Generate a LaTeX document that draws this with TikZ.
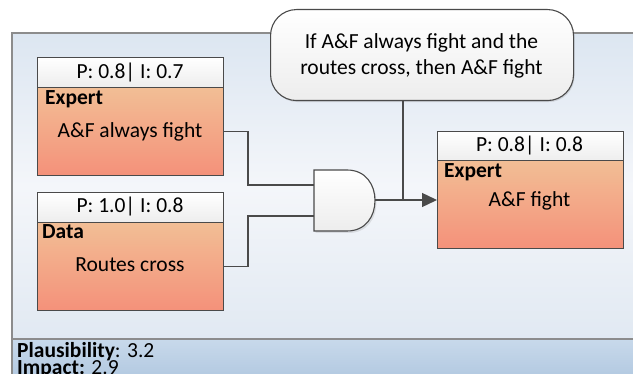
\documentclass[tikz,border=0pt]{standalone}
\usepackage{fontspec}
\setmainfont{Carlito}
\usetikzlibrary{arrows.meta,shadows}

\definecolor{edge}{HTML}{4A4A4A}
\definecolor{frame}{HTML}{8C8C8C}
\definecolor{paneltop}{HTML}{DCE6F1}
\definecolor{panelmid}{HTML}{F4F6FA}
\definecolor{panelbot}{HTML}{E1E9F2}
\definecolor{foottop}{HTML}{C8D9EB}
\definecolor{footbot}{HTML}{B1C8E0}
\definecolor{peachtop}{HTML}{F2BE95}
\definecolor{peachbot}{HTML}{F4917A}
\definecolor{headtop}{HTML}{FFFFFF}
\definecolor{headbot}{HTML}{EDEDED}

\newcommand{\diagfont}{\fontsize{21.5}{25}\selectfont}

\tikzset{
  txt/.style={font=\diagfont, inner sep=0pt, text=black},
  keytxt/.style={font=\diagfont\bfseries, inner sep=0pt, text=black, anchor=base west},
  headbox/.style={draw=edge, line width=1.1pt, top color=headtop, bottom color=headbot,
    minimum width=186pt, minimum height=30pt, anchor=north west, inner sep=0pt},
  bodybox/.style={draw=edge, line width=1.1pt, top color=peachtop, bottom color=peachbot,
    minimum width=186pt, minimum height=88pt, anchor=north west, inner sep=0pt},
  wire/.style={draw=edge, line width=1.4pt},
}

\begin{document}
\begin{tikzpicture}[x=1pt,y=-1pt]
\useasboundingbox (0,0) rectangle (633,374);

% panel and footer
\shade[top color=paneltop, bottom color=panelbot, middle color=panelmid]
  (12,33) rectangle (640,339);
\shade[top color=foottop, bottom color=footbot] (12,339) rectangle (640,380);
\draw[frame, line width=1.2pt] (12,380) -- (12,33) -- (640,33);
\draw[frame, line width=1.2pt] (12,339) -- (640,339);

% rule callout
\node[draw=edge, line width=1.1pt, rounded corners=26pt, top color=white, bottom color=headbot,
  minimum width=303pt, minimum height=91pt, anchor=north west, inner sep=0pt,
  drop shadow={shadow xshift=1pt, shadow yshift=-1.5pt, opacity=0.25}] (rule) at (270,9) {};
\node[txt, anchor=base] (rule1) at (421.5,49) {If A\&F always fight and the};
\node[txt, anchor=base] (rule2) at (421.5,75) {routes cross, then A\&F fight};

% premise 1
\node[headbox] (h1) at (37,57) {};
\node[bodybox] (b1) at (37,87) {};
\node[txt, anchor=base] (p1) at (130,79) {P: 0.8| I: 0.7};
\node[keytxt] (k1) at (45,105) {Expert};
\node[txt, anchor=base] (t1) at (130,138) {A\&F always fight};

% premise 2
\node[headbox] (h2) at (37,192) {};
\node[bodybox] (b2) at (37,222) {};
\node[txt, anchor=base] (p2) at (130,213) {P: 1.0| I: 0.8};
\node[keytxt] (k2) at (42,239) {Data};
\node[txt, anchor=base] (t2) at (130,272) {Routes cross};

% conclusion
\node[headbox] (h3) at (437,131) {};
\node[bodybox] (b3) at (437,160) {};
\node[txt, anchor=base] (p3) at (529.5,152) {P: 0.8| I: 0.8};
\node[keytxt] (k3) at (444,178) {Expert};
\node[txt, anchor=base] (t3) at (529.5,207) {A\&F fight};

% AND gate
\path[draw=edge, line width=1.1pt, top color=white, bottom color=headbot,
  drop shadow={shadow xshift=1.5pt, shadow yshift=-2pt, opacity=0.2}]
  (314,170) -- (347,170) .. controls (366,170) and (375,185) .. (375,200.5)
  .. controls (375,216) and (366,231) .. (347,231) -- (314,231) -- cycle;
\coordinate (gin1) at (314,185);
\coordinate (gin2) at (314,216);
\coordinate (gout) at (375,200);
\coordinate (tap) at (403,200);

% connectors
\draw[wire] (b1.east) -- ++(24,0) |- (gin1);
\draw[wire] (b2.east) -- ++(24,0) |- (gin2);
\draw[wire, -{Triangle[length=15pt, width=14pt]}] (gout) -- (gout -| b3.west);
\draw[wire] (tap |- rule.south) -- (tap);

% footer scores
\node[txt, anchor=base west] (score1) at (17,358) {\textbf{Plausibility}: 3.2};
\node[txt, anchor=base west] (score2) at (17,375) {\textbf{Impact:} 2.9};
\end{tikzpicture}
\end{document}
